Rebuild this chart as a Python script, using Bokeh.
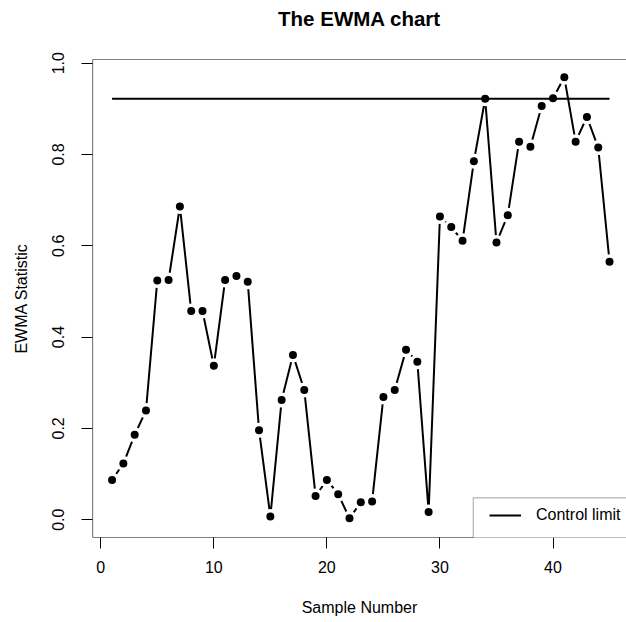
from bokeh.plotting import figure
from bokeh.models import Range1d, FixedTicker, Legend, LegendItem, Span, BoxAnnotation, Title
from bokeh.embed import file_html
from bokeh.resources import INLINE

samples = list(range(1, 46))
ewma = [0.087, 0.123, 0.186, 0.239, 0.524, 0.525, 0.686, 0.457, 0.457, 0.337,
        0.525, 0.534, 0.521, 0.196, 0.007, 0.262, 0.361, 0.284, 0.052, 0.087,
        0.056, 0.003, 0.038, 0.040, 0.269, 0.284, 0.372, 0.346, 0.017, 0.664,
        0.641, 0.611, 0.785, 0.922, 0.607, 0.667, 0.828, 0.817, 0.906, 0.923,
        0.969, 0.828, 0.882, 0.815, 0.565]
control_limit = 0.922
x_ticks = [0, 10, 20, 30, 40]
y_ticks = [0.0, 0.2, 0.4, 0.6, 0.8, 1.0]
y_tick_labels = ["0.0", "0.2", "0.4", "0.6", "0.8", "1.0"]
title_text = "The EWMA chart"

FONT = "Liberation Sans"
X0, X1 = -0.73, 46.5
Y0, Y1 = -0.039, 1.008

p = figure(width=626, height=622, output_backend="svg", toolbar_location=None,
           x_range=Range1d(X0, X1), y_range=Range1d(Y0, Y1),
           min_border_left=92, min_border_right=0, min_border_top=59,
           min_border_bottom=85, title=None)

p.background_fill_color = "white"
p.border_fill_color = "white"
p.outline_line_color = None
p.grid.visible = False

# empty spacer between frame and title, so the title sits high as in the reference
p.add_layout(Title(text=" ", text_font=FONT, text_font_size="25px", standoff=0), "above")
p.add_layout(Title(text=title_text, text_font=FONT, text_font_size="20.5px",
                   text_font_style="bold", text_color="black", align="center",
                   offset=3, standoff=0), "above")

for ax in (p.xaxis[0], p.yaxis[0]):
    ax.axis_line_color = None
    ax.major_tick_in = 0
    ax.major_tick_out = 11
    ax.major_tick_line_color = "black"
    ax.minor_tick_line_color = None
    ax.major_label_text_font = FONT
    ax.major_label_text_font_size = "16px"
    ax.major_label_text_color = "black"
    ax.axis_label_text_font = FONT
    ax.axis_label_text_font_size = "16px"
    ax.axis_label_text_font_style = "normal"
    ax.axis_label_text_color = "black"

p.xaxis.ticker = FixedTicker(ticks=x_ticks)
p.yaxis.ticker = FixedTicker(ticks=y_ticks)
p.yaxis.major_label_overrides = {t: l for t, l in zip(y_ticks, y_tick_labels)}
p.yaxis.major_label_orientation = "parallel"
p.xaxis.axis_label = "Sample Number"
p.yaxis.axis_label = "EWMA Statistic"
p.xaxis.major_label_standoff = 12
p.xaxis.axis_label_standoff = 23
p.yaxis.major_label_standoff = 17
p.yaxis.axis_label_standoff = 20

# plot box (right side lies beyond the window, as in the reference)
for loc, dim in ((X0, "height"), (Y0, "width"), (Y1, "width")):
    p.add_layout(Span(location=loc, dimension=dim, line_color="black", line_width=1.2))

# data line with gaps (type="b") via white halos
p.line(samples, ewma, line_color="black", line_width=2)
p.scatter(samples, ewma, size=15, fill_color="white", line_color=None)

cl = p.line([min(samples), max(samples)], [control_limit, control_limit],
            line_color="black", line_width=2)

p.scatter(samples, ewma, size=8, fill_color="black", line_color=None)

# legend box, running off the right edge like the reference
p.add_layout(BoxAnnotation(left=32.95, right=49, bottom=Y0 - 0.05, top=0.048,
                           fill_color="white", fill_alpha=1,
                           line_color="black", line_width=1.2))

legend = Legend(items=[LegendItem(label="Control limit", renderers=[cl])],
                location=(397, 13), margin=0, padding=0, spacing=0,
                glyph_width=32, glyph_height=16, label_height=16,
                label_standoff=15, label_text_font=FONT,
                label_text_font_size="16px", label_text_color="black",
                border_line_color=None, background_fill_alpha=0)
p.add_layout(legend, "center")

open("out.html", "w").write(file_html(p, INLINE))
